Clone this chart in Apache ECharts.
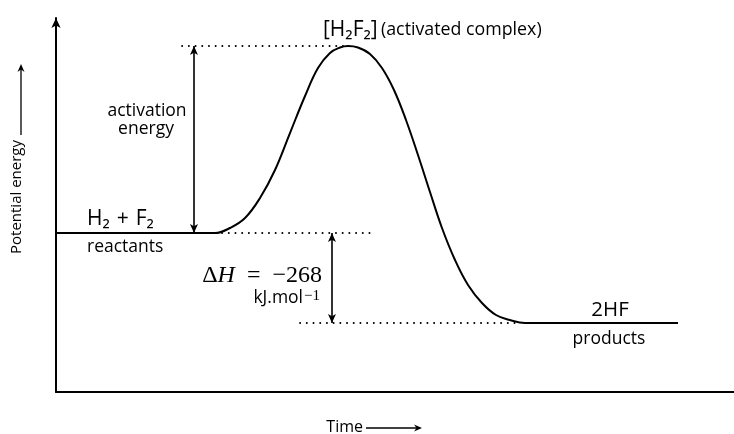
<!DOCTYPE html>
<html><head><meta charset="utf-8">
<script src="https://cdn.jsdelivr.net/npm/echarts@6/dist/echarts.min.js"></script>
<style>html,body{margin:0;padding:0;background:#fff}#c{width:734px;height:434px}</style>
</head><body><div id="c"></div>
<script>
// reaction coordinate (time, arbitrary units) and potential energy (arbitrary units)
const timePoints = [0, 20, 23.45, 25.66, 27.88, 30.09, 32.3, 34.51, 36.73, 38.64, 40.41, 41.89, 43.07, 44.54, 46.31, 48.08, 49.85, 51.62, 53.39, 55.16, 56.93, 58.85, 60.77, 62.83, 64.9, 66.96, 69.17, 75, 91.74];
const energyValues = [42.5, 42.5, 42.5, 43.85, 46.52, 51.87, 59.36, 69.25, 79.14, 86.63, 90.64, 92.11, 92.51, 92.11, 90.37, 86.63, 80.75, 72.73, 63.37, 53.48, 43.85, 35.29, 28.61, 23.8, 20.59, 19.25, 18.45, 18.45, 18.45];
const reactantLevel = energyValues[0];
const peakLevel = Math.max(...energyValues);
const productLevel = energyValues[energyValues.length - 1];
const deltaH = -268;
const axisNames = ['Time', 'Potential energy'];

const SANS = '"Open Sans", "DejaVu Sans", sans-serif';
const SERIF = '"Liberation Serif", "DejaVu Serif", serif';
const curve = timePoints.map((t, i) => [t, energyValues[i]]);
const dotStyle = {type: [0.1, 6.6], width: 1.9, cap: 'round', color: '#000'};

const chart = echarts.init(document.getElementById('c'));
chart.setOption({
  animation: false,
  backgroundColor: '#fff',
  grid: {left: 56, right: 0, top: 18, bottom: 42},
  xAxis: {
    type: 'value', min: 0, max: 100,
    axisLine: {lineStyle: {color: '#000', width: 2}},
    axisTick: {show: false}, axisLabel: {show: false}, splitLine: {show: false}
  },
  yAxis: {
    type: 'value', min: 0, max: 100,
    axisLine: {show: true, symbol: ['none', 'arrow'], symbolSize: [7, 10], lineStyle: {color: '#000', width: 2}},
    axisTick: {show: false}, axisLabel: {show: false}, splitLine: {show: false}
  },
  series: [
    {
      type: 'line', data: curve, smooth: 0.4, symbol: 'none',
      lineStyle: {color: '#000', width: 2}, silent: true,
      markLine: {
        silent: true, symbol: 'none', label: {show: false},
        lineStyle: dotStyle,
        data: [
          [{coord: [18.6, peakLevel]}, {coord: [42.6, peakLevel]}],
          [{coord: [23.5, reactantLevel]}, {coord: [46.3, reactantLevel]}],
          [{coord: [36.0, productLevel]}, {coord: [68.4, productLevel]}]
        ]
      }
    },
    {
      type: 'line', data: [], symbol: 'none', silent: true,
      markLine: {
        silent: true, symbol: ['arrow', 'arrow'], symbolSize: [6, 9], label: {show: false},
        lineStyle: {type: 'solid', width: 1.6, color: '#000'},
        itemStyle: {color: '#000'},
        data: [
          [{coord: [20.35, reactantLevel]}, {coord: [20.35, peakLevel]}],
          [{coord: [40.7, productLevel]}, {coord: [40.7, reactantLevel]}]
        ]
      }
    }
  ],
  graphic: [
    {type: 'text', x: 323, y: 30, style: {
      text: '{a|[H₂F₂]} {b|(activated complex)}', textVerticalAlign: 'middle', fill: '#000',
      rich: {a: {fontFamily: SANS, fontSize: 21, fill: '#000'}, b: {fontFamily: SANS, fontSize: 17.8, fill: '#000'}}
    }},
    {type: 'text', x: 147, y: 111, style: {text: 'activation', font: '17.5px ' + SANS, fill: '#000', textAlign: 'center', textVerticalAlign: 'middle'}},
    {type: 'text', x: 146, y: 129, style: {text: 'energy', font: '17.5px ' + SANS, fill: '#000', textAlign: 'center', textVerticalAlign: 'middle'}},
    {type: 'text', x: 87, y: 219, style: {text: 'H₂\u2004+\u2004F₂', font: '21px ' + SANS, fill: '#000', textVerticalAlign: 'middle'}},
    {type: 'text', x: 87, y: 247, style: {text: 'reactants', font: '17.5px ' + SANS, fill: '#000', textVerticalAlign: 'middle'}},
    {type: 'text', x: 322, y: 276, style: {
      text: '{r|Δ}{i|H}{r|\u2002=\u2002−' + Math.abs(deltaH) + '}', textAlign: 'right', textVerticalAlign: 'middle', fill: '#000',
      rich: {r: {fontFamily: SERIF, fontSize: 24, fill: '#000'}, i: {fontFamily: SERIF, fontSize: 24, fontStyle: 'italic', fill: '#000'}}
    }},
    {type: 'text', x: 320, y: 298, style: {
      text: '{a|kJ.mol}{s|−1}', textAlign: 'right', textVerticalAlign: 'middle', fill: '#000',
      rich: {a: {fontFamily: SANS, fontSize: 17.5, fill: '#000'}, s: {fontFamily: SERIF, fontSize: 15, fill: '#000', verticalAlign: 'top', padding: [0, 0, 0, 1]}}
    }},
    {type: 'text', x: 610, y: 310, style: {text: '2HF', font: '20.5px ' + SANS, fill: '#000', textAlign: 'center', textVerticalAlign: 'middle'}},
    {type: 'text', x: 609, y: 339, style: {text: 'products', font: '17.5px ' + SANS, fill: '#000', textAlign: 'center', textVerticalAlign: 'middle'}},
    {type: 'text', x: 17, y: 197, rotation: Math.PI / 2, style: {text: axisNames[1], font: '15px ' + SANS, fill: '#000', textAlign: 'center', textVerticalAlign: 'middle'}},
    {type: 'line', shape: {x1: 21, y1: 135, x2: 21, y2: 68}, style: {stroke: '#000', lineWidth: 1.3}},
    {type: 'polygon', shape: {points: [[21, 64], [17.5, 72], [21, 69.5], [24.5, 72]]}, style: {fill: '#000'}},
    {type: 'text', x: 363, y: 427, style: {text: axisNames[0], font: '16px ' + SANS, fill: '#000', textAlign: 'right', textVerticalAlign: 'middle'}},
    {type: 'line', shape: {x1: 366, y1: 428, x2: 418, y2: 428}, style: {stroke: '#000', lineWidth: 1.3}},
    {type: 'polygon', shape: {points: [[422, 428], [414, 424.5], [416.5, 428], [414, 431.5]]}, style: {fill: '#000'}}
  ]
});
</script>
</body></html>
